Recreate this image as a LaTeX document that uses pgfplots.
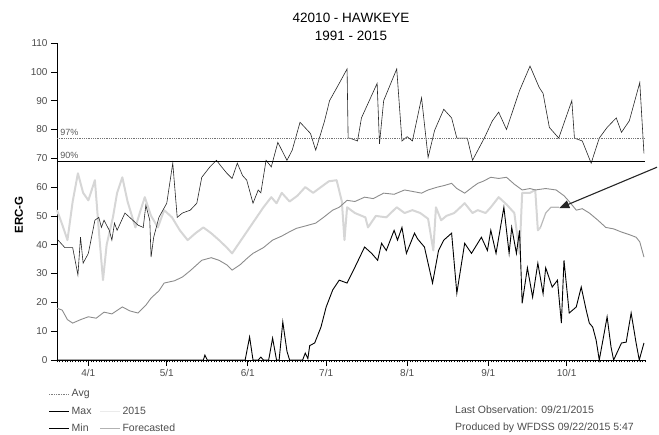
\documentclass[border=0pt]{standalone}
\usepackage{fontspec}
\setmainfont{Liberation Sans}
\usepackage{pgfplots}
\usepackage{pgfplotstable}
\pgfplotsset{compat=1.18}
\usetikzlibrary{arrows.meta}

% day of year, ERC-G
\pgfplotstableread{
day erc
79.4 41.6
82 39
85 39
87 29.5
88 42.6
89 33.6
91 37
93.5 48.5
95 49.5
96 46
97 48.5
99 45
100 41.6
101 47.5
102 45
105 51
108 48.5
110 46.8
112 46
113 53.7
114.5 48.5
115 35.7
116 42.6
118 49.5
121 54.4
123.3 68.3
125 49.5
127 51
130 52
132.5 54.4
134.4 63.4
137.5 67
140 69.3
142 67
144 64.8
146 63
148 68.3
150 64
151.6 62.4
154 54.4
156 59
157 58
159 69.3
161 67
163.5 75.5
167 69.3
169 72.8
172 82.5
176 78.6
178 72.8
181.4 83
183.3 90
187 96
190 101
190.4 77
191 77
194 76
195.5 84
201.5 96
202.4 75
204 90
209 101
211 76
213 77.5
215 76
218.5 91
221 70.3
223.5 79.7
227 87
230 84
232 77
236 77
238 69.3
242.5 77
245.6 83
248 86
251 80
256 93.5
260 102
263.5 94.6
265 92.5
267.4 80.7
271 77
276 90
277 77
280 76
283.4 68.3
286.5 77
289.5 80.7
293 84
295 79
298 83
302 96.3
303.6 71.7
}\maxtab

\pgfplotstableread{
day erc
79 18
81 17.3
83 14
85 12.8
88 14
91 15
94 14.5
97 16.6
100 16
104 18.4
107 17
110 16.3
113 19
115 21.5
118 24
120 26.7
124 27.5
127 28.8
130 31
134.4 34.6
138 35.5
141 34.6
144 33
146 31.2
149 33
152 35.5
154 37
158 39
161.5 41.6
165 43
168 44.5
170.7 45.7
174 46.5
178 47.5
181 49.5
184.5 52
187 53
190 55.4
193 55
196.7 56.5
200 56
204 57.9
208 57.5
212 59
215 58.5
218.5 57.9
221 59
224.6 60
227 60.5
230 61.3
232 59.5
235 57.9
238 60
240 61.3
242 62
245 63.4
248 63
251 63.4
254 61
257 59
260 59.5
262 59
266 59.5
270 59
273 57
275 55
277.7 52
280 52.5
282.7 51
286 48.5
289 46
292 45.5
295 44.4
298 43.5
300.6 42.6
302 41
303.6 35.7
}\avgtab

\pgfplotstableread{
day erc
79 0
135 0
135.6 1.7
136.5 0
151 0
152.7 8
154 0
156 0
157 1
158 0
160 0
161.5 7.6
163 0
164 0
165.4 13.2
167 3
168 0
173 0
174 2.4
175 0.5
175.7 5
177.6 5.9
180 11.4
182 18.4
184.5 24.3
187 27.7
190 26.7
193 32.2
196.7 39.2
199.4 37
201.7 34.6
203.2 40.5
205 38
208 45
209.3 41.6
211 46
212.7 37
215.8 44
217 42
219.6 39.2
222.7 26.7
225 38
227 41.6
230 44
232 23.2
235 40.5
237.6 37
241.4 42.6
243.7 38
245 45
247 37
250 53
252 37
253 46
254.8 37
256 45
257 19.7
259 32
261 21.8
263 33.6
265 23
266 32
268.5 25.3
270.5 27.7
272 12.8
273 34.6
275 16.3
277.7 18.4
279.6 25.3
281.5 17.3
282.7 12.8
284 11.4
285.3 6.9
286.5 0
288.4 9.4
289.5 15
291 4.5
292 0
295 5.9
296.8 6.2
298.7 16.3
300.6 5.9
301.8 0
303.6 5.9
}\mintab

\pgfplotstableread{
day erc
79 52
81 47
83 41.6
85 55
87 64.8
89 58
91 55.4
93.5 62.4
95 45
96.6 27.7
98 40
100.4 49.5
102 58
104 63.4
106 55
109 46
111 52
112.6 56.5
115 50
117.6 46
120 52
123 49.5
126 45
129 41.6
132 44
135 46
138 44
141 41.6
144 39
146 37
149 41
152 45
155 49
158 53
161 56.5
163 54.4
165 58
168 55
171 57
174 60
177 58
180 60
183 62
186 62.4
188 55
189 41.6
190 53
193 51
197 49.5
198 46
201 50
205 49.5
209 53
212 51
215 52
218 51
221 49
223 38
224 53
226 48.5
228 50
231 51
235 54.4
238 51
240 52
243 51
245 53
248 56.5
251 54
254 51
256 37
257 58
260 58
262 59
263 45
264 46
}\obstab

\pgfplotstableread{
day erc
264 46
266 51
268 53
271 53
}\fcsttab

\begin{document}
\begin{tikzpicture}
\useasboundingbox (0pt,0pt) rectangle (659pt,-435pt);
\begin{axis}[
    at={(57pt,-360pt)}, anchor=south west,
    scale only axis, width=588pt, height=317pt,
    xmin=79, xmax=304, ymin=0, ymax=110,
    axis lines*=left,
    axis line style={black, line width=0.8pt},
    clip=false,
    xtick={91,121,152,182,213,244,274},
    xticklabels={4/1,5/1,6/1,7/1,8/1,9/1,10/1},
    minor xtick={79,80,...,304},
    ytick={0,10,...,110},
    tick align=outside,
    major tick length=6pt, minor tick length=2.5pt,
    tick style={black, line width=0.6pt},
    minor tick style={black, line width=0.4pt},
    /pgf/number format/assume math mode=true,
    tick label style={font=\fontsize{10}{12}\selectfont, text=black!70},
    ylabel={ERC-G},
    ylabel style={at={(axis description cs:-0.0646,0.457)}, anchor=center,
        font=\bfseries\fontsize{11.5}{13}\selectfont},
    title={42010 - HAWKEYE\\1991 - 2015},
    title style={at={(axis description cs:0.5,1)}, anchor=south, yshift=-4pt,
        align=center, inner sep=0pt, font=\fontsize{13.5}{18}\selectfont},
    legend columns=2,
    legend cell align=left,
    legend image code/.code={\draw[#1] (0pt,0pt) -- (20pt,0pt);},
    legend style={at={(axis description cs:-0.02,-0.08)}, anchor=north west,
        draw=none, fill=none, font=\fontsize{10.5}{12}\selectfont,
        text=black!70, row sep=4.5pt,
        /tikz/every even column/.append style={column sep=6pt}},
]
\addlegendimage{gray, densely dotted, line width=0.7pt}\addlegendentry{Avg}
\addlegendimage{empty legend}\addlegendentry{}
\addlegendimage{black, line width=0.6pt}\addlegendentry{Max}
\addlegendimage{black!8, line width=1pt}\addlegendentry{2015}
\addlegendimage{black, line width=1.3pt}\addlegendentry{Min}
\addlegendimage{black!30, line width=0.8pt}\addlegendentry{Forecasted}

\addplot[forget plot, black!16, line width=2pt, line join=round] table[x=day, y=erc] {\obstab};
\addplot[forget plot, black!28, line width=1.2pt] table[x=day, y=erc] {\fcsttab};
\addplot[forget plot, black!45, line width=0.9pt] table[x=day, y=erc] {\avgtab};
\addplot[forget plot, black, line width=0.9pt] table[x=day, y=erc] {\mintab};
\addplot[forget plot, black!85, line width=0.6pt] table[x=day, y=erc] {\maxtab};
\addplot[forget plot, black!55, densely dotted, line width=0.8pt] coordinates {(79,77) (304,77)};
\addplot[forget plot, black, line width=0.8pt] coordinates {(79,69) (304,69)};

\node[anchor=south west, inner sep=1pt, font=\fontsize{9}{10}\selectfont, text=black!65] at (axis cs:79.8,77.4) {97\%};
\node[anchor=south west, inner sep=1pt, font=\fontsize{9}{10}\selectfont, text=black!65] at (axis cs:79.8,69.4) {90\%};
\draw[-{Triangle[length=10pt,width=8pt]}, line width=1.1pt, black!85]
    (axis cs:308.6,66.9) -- (axis cs:271.2,52.7);
\end{axis}
\node[anchor=base west, font=\fontsize{10.5}{12}\selectfont, text=black!70, inner sep=0pt]
    at (455pt,-414pt) {Last Observation: 09/21/2015};
\node[anchor=base west, font=\fontsize{10.5}{12}\selectfont, text=black!70, inner sep=0pt]
    at (455pt,-431pt) {Produced by WFDSS 09/22/2015 5:47};
\end{tikzpicture}
\end{document}
